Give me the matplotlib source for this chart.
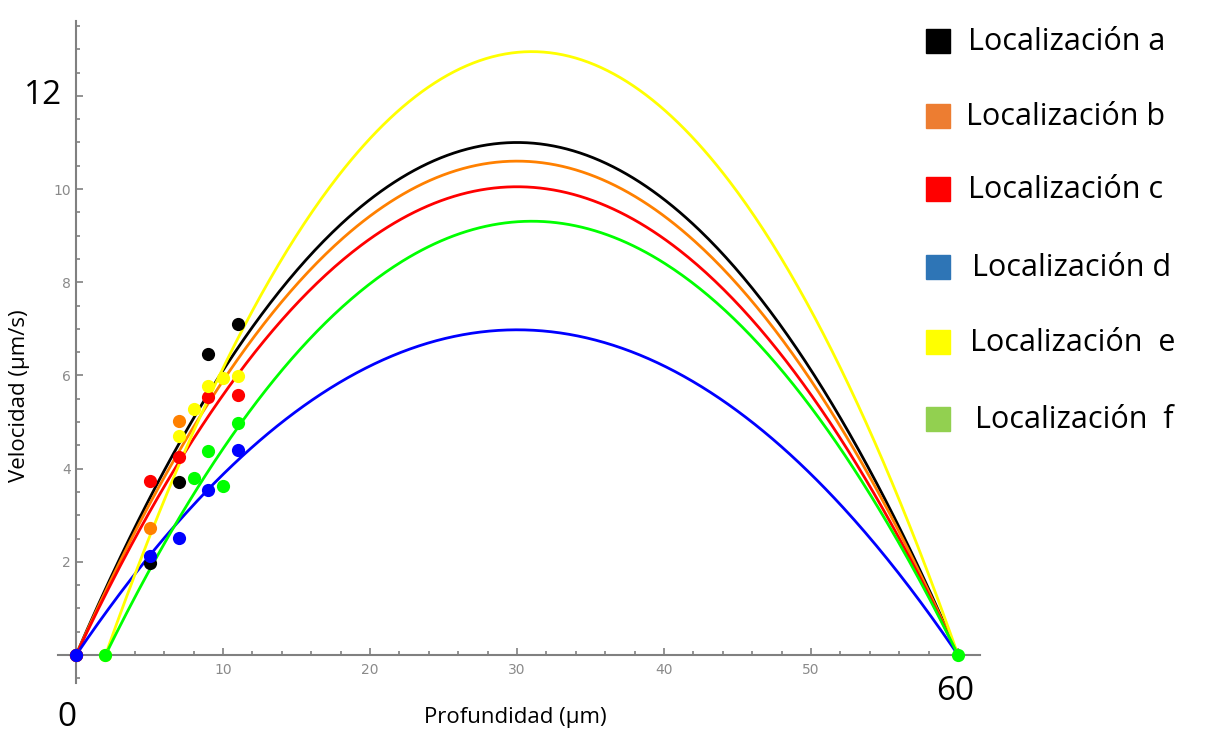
import numpy as np
import matplotlib
matplotlib.use("Agg")
from matplotlib import pyplot as plt

# fitted parabolas: root start, root end, peak velocity
names = ["a", "b", "c", "d", "e", "f"]
line_colors = ["#000000", "#FF8000", "#FF0000", "#0000FF", "#FFFF00", "#00FF00"]
fit_start = [0, 0, 0, 0, 2, 2]
fit_end = [60, 60, 60, 60, 60, 60]
fit_peak = [11.0, 10.6, 10.05, 6.98, 12.95, 9.31]

# measured points (x depth, y velocity), per location
pts_a_x = [0, 5, 7, 9, 11]
pts_a_y = [0, 1.98, 3.72, 6.47, 7.10]
pts_b_x = [0, 5, 7]
pts_b_y = [0, 2.72, 5.02]
pts_c_x = [0, 5, 7, 9, 11]
pts_c_y = [0, 3.73, 4.24, 5.53, 5.58]
pts_d_x = [0, 5, 7, 9, 11]
pts_d_y = [0, 2.12, 2.52, 3.54, 4.39]
pts_e_x = [2, 7, 8, 9, 10, 11]
pts_e_y = [0, 4.71, 5.27, 5.77, 5.95, 5.99]
pts_f_x = [2, 8, 9, 10, 11, 60]
pts_f_y = [0, 3.79, 4.38, 3.63, 4.99, 0]

legend_labels = ["Localización a", "Localización b", "Localización c",
                 "Localización d", "Localización  e", "Localización  f"]
legend_colors = ["#000000", "#ED7D31", "#FF0000", "#2E75B6", "#FFFF00", "#92D050"]

fig = plt.figure(figsize=(12.12, 7.36), dpi=100)
ax = fig.add_axes([0.0482, 0.072, 0.7605, 0.899])
ax.set_xlim(-1.2, 61.5)
ax.set_ylim(-0.6, 13.6)

for i in range(6):
    x = np.linspace(fit_start[i], fit_end[i], 400)
    half = (fit_end[i] - fit_start[i]) / 2.0
    y = fit_peak[i] * (x - fit_start[i]) * (fit_end[i] - x) / half**2
    ax.plot(x, y, color=line_colors[i], lw=2, zorder=2)

pts = [(pts_a_x, pts_a_y), (pts_b_x, pts_b_y), (pts_c_x, pts_c_y),
       (pts_e_x, pts_e_y), (pts_f_x, pts_f_y), (pts_d_x, pts_d_y)]
pcols = [line_colors[0], line_colors[1], line_colors[2], line_colors[4],
         line_colors[5], line_colors[3]]
for (px, py), c in zip(pts, pcols):
    ax.plot(px, py, "o", color=c, ms=9.5, mec="none", zorder=3)

# Mathematica-style axes through the origin
for s in ["top", "right"]:
    ax.spines[s].set_visible(False)
ax.spines["left"].set_position(("data", 0))
ax.spines["bottom"].set_position(("data", 0))
for s in ["left", "bottom"]:
    ax.spines[s].set_color("#808080")
    ax.spines[s].set_linewidth(1.5)

ax.set_xticks([10, 20, 30, 40, 50, 60])
ax.set_xticklabels(["10", "20", "30", "40", "50", ""])
ax.set_xticks(np.arange(-0, 62, 2), minor=True)
ax.set_yticks([2, 4, 6, 8, 10, 12])
ax.set_yticklabels(["2", "4", "6", "8", "10", ""])
ax.set_yticks(np.arange(-0.5, 13.6, 0.5), minor=True)
ax.tick_params(which="both", direction="in", color="#808080", width=1.2,
               labelcolor="#8a8a8a", labelsize=10)
ax.tick_params(which="major", length=5)
ax.tick_params(which="minor", length=3)
ax.tick_params(axis="x", pad=6)

fig.text(0.016, 0.463, "Velocidad (μm/s)", rotation=90, ha="center", va="center",
         fontsize=16, family="Open Sans")
fig.text(0.425, 0.025, "Profundidad (μm)", ha="center", va="center",
         fontsize=16, family="Open Sans")

# big overlaid labels
fig.text(43 / 1212, 1 - 95 / 736, "12", ha="center", va="center", fontsize=24,
         family="Open Sans")
fig.text(67 / 1212, 1 - 718 / 736, "0", ha="center", va="center", fontsize=24,
         family="Open Sans")
fig.text(955 / 1212, 1 - 692 / 736, "60", ha="center", va="center", fontsize=24,
         family="Open Sans")

# legend drawn as squares + text
rows = [42, 117, 190, 268, 343, 420]
text_x = [968, 966, 968, 972, 970, 975]
for lab, col, r, tx in zip(legend_labels, legend_colors, rows, text_x):
    fig.patches.append(plt.Rectangle((926 / 1212, 1 - (r + 11) / 736), 24 / 1212, 24 / 736,
                                     transform=fig.transFigure, color=col, figure=fig))
    fig.text(tx / 1212, 1 - r / 736, lab, ha="left", va="center", fontsize=22,
             family="Open Sans")

fig.savefig("out.png", dpi=100)
